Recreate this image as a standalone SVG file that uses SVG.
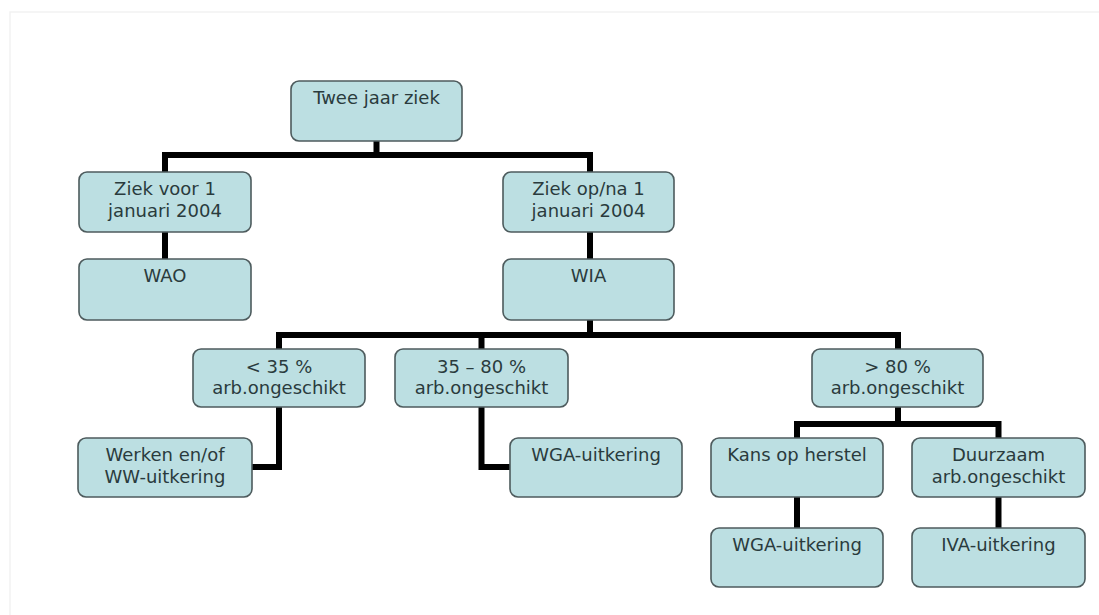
<svg xmlns="http://www.w3.org/2000/svg" width="1099" height="615" viewBox="0 0 1099 615">
<style>
.box{fill:#bcdfe2;stroke:#4d5b5d;stroke-width:1.6}
.t{font-family:"DejaVu Sans",Verdana,sans-serif;font-size:18px;fill:#2a3b3d;text-anchor:middle}
.c{fill:none;stroke:#000;stroke-width:6;stroke-linejoin:miter;stroke-linecap:butt}
</style>
<rect x="0" y="0" width="1099" height="615" fill="#fff"/>
<rect x="10" y="12" width="1095" height="610" fill="none" stroke="#f2f2f2" stroke-width="1.5"/>
<g id="connectors">
<path class="c" d="M376.5 141 V155 M165 175 V155 H590 V175"/>
<path class="c" d="M165 232 V260"/>
<path class="c" d="M590 232 V260"/>
<path class="c" d="M590 320 V335 M279 350 V335 H898 V350 M481.5 335 V350"/>
<path class="c" d="M279 407 V467 H252"/>
<path class="c" d="M481.5 407 V467 H511"/>
<path class="c" d="M898 407 V424 M797 439 V424 H998.5 V439"/>
<path class="c" d="M797 497 V529"/>
<path class="c" d="M998.5 497 V529"/>
</g>
<g id="n1"><rect class="box" x="291" y="81" width="171" height="60" rx="8"/><text class="t" x="376.5" y="104">Twee jaar ziek</text></g>
<g id="n2"><rect class="box" x="79" y="172" width="172" height="60" rx="8"/><text class="t" x="165" y="195">Ziek voor 1</text><text class="t" x="165" y="217">januari 2004</text></g>
<g id="n3"><rect class="box" x="503" y="172" width="171" height="60" rx="8"/><text class="t" x="588.5" y="195">Ziek op/na 1</text><text class="t" x="588.5" y="217">januari 2004</text></g>
<g id="n4"><rect class="box" x="79" y="259" width="172" height="61" rx="8"/><text class="t" x="165" y="282">WAO</text></g>
<g id="n5"><rect class="box" x="503" y="259" width="171" height="61" rx="8"/><text class="t" x="588.5" y="282">WIA</text></g>
<g id="n6"><rect class="box" x="193" y="349" width="172" height="58" rx="8"/><text class="t" x="279" y="373">&lt; 35 %</text><text class="t" x="279" y="394">arb.ongeschikt</text></g>
<g id="n7"><rect class="box" x="395" y="349" width="173" height="58" rx="8"/><text class="t" x="481.5" y="373">35 – 80 %</text><text class="t" x="481.5" y="394">arb.ongeschikt</text></g>
<g id="n8"><rect class="box" x="812" y="349" width="171" height="58" rx="8"/><text class="t" x="897.5" y="373">&gt; 80 %</text><text class="t" x="897.5" y="394">arb.ongeschikt</text></g>
<g id="n9"><rect class="box" x="78" y="438" width="174" height="59" rx="8"/><text class="t" x="165" y="461">Werken en/of</text><text class="t" x="165" y="483">WW-uitkering</text></g>
<g id="n10"><rect class="box" x="510" y="438" width="172" height="59" rx="8"/><text class="t" x="596" y="461">WGA-uitkering</text></g>
<g id="n11"><rect class="box" x="711" y="438" width="172" height="59" rx="8"/><text class="t" x="797" y="461">Kans op herstel</text></g>
<g id="n12"><rect class="box" x="912" y="438" width="173" height="59" rx="8"/><text class="t" x="998.5" y="461">Duurzaam</text><text class="t" x="998.5" y="483">arb.ongeschikt</text></g>
<g id="n13"><rect class="box" x="711" y="528" width="172" height="59" rx="8"/><text class="t" x="797" y="551">WGA-uitkering</text></g>
<g id="n14"><rect class="box" x="912" y="528" width="173" height="59" rx="8"/><text class="t" x="998.5" y="551">IVA-uitkering</text></g>
</svg>
